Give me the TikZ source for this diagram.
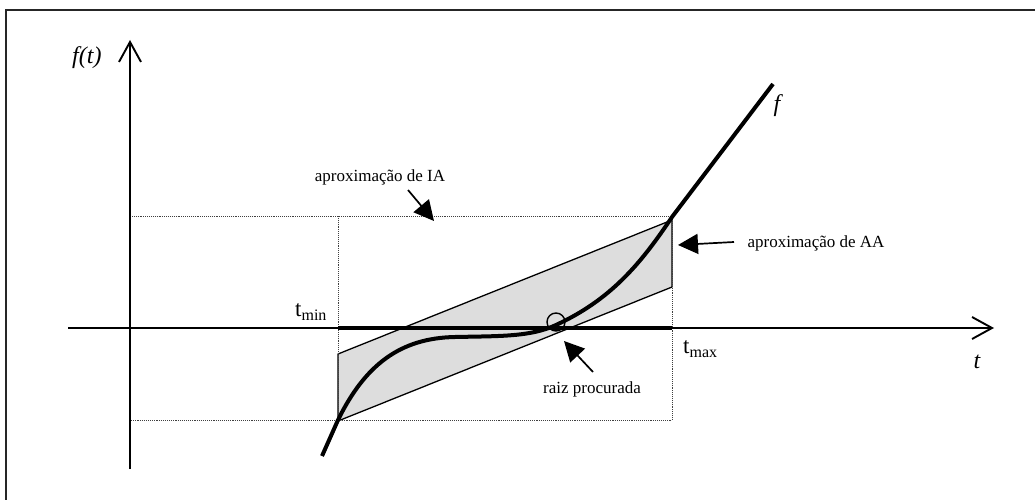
\documentclass[tikz,border=0pt]{standalone}
\usepackage{fontspec}
\setmainfont{Liberation Serif}
\usetikzlibrary{arrows.meta}
\definecolor{bandgray}{RGB}{221,221,221}
\begin{document}
\begin{tikzpicture}[x=1pt,y=-1pt,
  lbl/.style={inner sep=0pt, font=\fontsize{17}{19}\selectfont},
  ital/.style={inner sep=0pt, font=\fontsize{24}{26}\selectfont\itshape},
  sublbl/.style={inner sep=0pt, font=\fontsize{23}{25}\selectfont},
  axis/.style={line width=1.9pt, -{Straight Barb[length=20pt,width=22pt,line width=1.9pt]}},
  guide/.style={densely dotted, line width=0.9pt, black!75},
  pointer/.style={line width=1.7pt, -{Triangle[length=20pt,width=20pt]}},
  band/.style={fill=bandgray, draw=black, line width=1.3pt, line join=round},
  func/.style={line width=4pt},
  frame/.style={line width=2pt, black!85},
]
\useasboundingbox (0,0) rectangle (1035,500);
% outer frame (top and left edges visible)
\draw[frame] (5.5,500) -- (5.5,10) -- (1035,10);

% key points
\coordinate (origin) at (130,328);
\coordinate (tminpt) at (338,328);
\coordinate (tmaxpt) at (672,328);
\coordinate (lowL) at (338,420);
\coordinate (highR) at (672,217);

% interval box (dotted)
\coordinate (gTL) at (130,216);
\coordinate (gTR) at (672,216);
\coordinate (gBL) at (130,420);
\coordinate (gBR) at (672,420);
\coordinate (gLT) at (338,216);

% affine approximation band
\coordinate (bA) at (338,354);
\coordinate (bB) at (672,220);
\coordinate (bC) at (672,287);
\coordinate (bD) at (338,421);
\filldraw[band] (bA) -- (bB) -- (bC) -- (bD) -- cycle;

\draw[guide] (gTL) -- (gTR) -- (gBR) -- (gBL);
\draw[guide] (gLT) -- (lowL);

% axes
\coordinate (ybot) at (130,469);
\coordinate (ytop) at (130,40);
\coordinate (xleft) at (68,328);
\coordinate (xright) at (994,328);
\draw[axis] (ybot) -- (ytop);
\draw[axis] (xleft) -- (xright);

% interval on t axis
\draw[line width=3.6pt] (tminpt) -- (tmaxpt);

% function f
\coordinate (fstart) at (322,456);
\coordinate (fflat) at (455,337);
\coordinate (froot) at (556,325);
\coordinate (fend) at (773,84);
\draw[func] (fstart) -- (lowL)
  .. controls (365,365) and (400,338) .. (fflat)
  .. controls (500,336) and (530,337) .. (froot)
  .. controls (610,300) and (640,265) .. (highR) -- (fend);

% root marker
\node[draw, circle, line width=1.4pt, minimum size=18pt, inner sep=0pt] (rootc) at (556,322) {};

% labels
\node[ital, anchor=base west] (ft) at (72,64) {f(t)};
\node[ital] (flab) at (777,106) {f};
\node[ital] (tlab) at (977,362) {t};
\node[sublbl, anchor=base west] (tmin) at (295,316) {t\raisebox{-4pt}{\fontsize{16}{16}\selectfont min}};
\node[sublbl, anchor=base west] (tmax) at (683,353) {t\raisebox{-4pt}{\fontsize{16}{16}\selectfont max}};

\node[lbl] (iaText) at (380,177) {aproximação de IA};
\node[lbl] (aaText) at (816,243) {aproximação de AA};
\node[lbl] (rootText) at (592,389) {raiz procurada};

% pointers
\coordinate (iaTail) at (408,190);
\coordinate (iaTip) at (434,221);
\coordinate (aaTail) at (734,242);
\coordinate (aaTip) at (678,245);
\coordinate (rtTail) at (593,372);
\coordinate (rtTip) at (564,341);
\draw[pointer] (iaTail) -- (iaTip);
\draw[pointer] (aaTail) -- (aaTip);
\draw[pointer] (rtTail) -- (rtTip);
\end{tikzpicture}
\end{document}
